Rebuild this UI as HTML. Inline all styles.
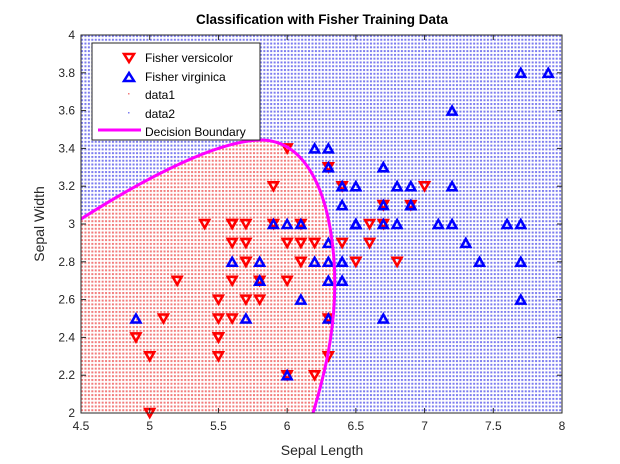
<!DOCTYPE html><html><head><style>body{margin:0;background:#fff}svg{display:block;font-family:"Liberation Sans",Arial,sans-serif}</style></head><body>
<svg id="s" width="620" height="464" xmlns="http://www.w3.org/2000/svg">
<defs>
<pattern id="pr" width="3.44" height="3.78" patternUnits="userSpaceOnUse" x="81" y="413"><rect width="3.44" height="3.78" fill="#fff"/><rect x="0" y="0" width="2" height="2" fill="#f27c7c"/></pattern>
<pattern id="pb" width="3.44" height="3.78" patternUnits="userSpaceOnUse" x="81" y="413"><rect width="3.44" height="3.78" fill="#fff"/><rect x="0" y="0" width="2" height="2" fill="#7c7cef"/></pattern>
<clipPath id="c"><rect x="81" y="35" width="481" height="378"/></clipPath>
</defs>
<rect x="81" y="35" width="481" height="378" fill="url(#pb)"/>
<path clip-path="url(#c)" d="M81,219 C150,175 220,140 262,140 C300,141 328,180 334,260 C338,320 326,370 313,413 L81,413 Z" fill="url(#pr)"/>
<g id="m"></g>
<path clip-path="url(#c)" d="M81,219 C150,175 220,140 262,140 C300,141 328,180 334,260 C338,320 326,370 313,413" fill="none" stroke="#ff00ff" stroke-width="3"/>
<rect x="81" y="35" width="481" height="378" fill="none" stroke="#262626" stroke-width="1"/>
<g id="t" font-size="12" fill="#262626"></g>
<text x="322" y="24" text-anchor="middle" font-size="13.5" font-weight="bold" fill="#000">Classification with Fisher Training Data</text>
<text x="322" y="455" text-anchor="middle" font-size="14" fill="#262626">Sepal Length</text>
<text transform="translate(44,224) rotate(-90)" text-anchor="middle" font-size="14" fill="#262626">Sepal Width</text>
<rect x="92" y="43" width="168" height="97" fill="#fff" stroke="#262626"/>
<path d="M124,54 l5,8 l5,-8 Z" fill="none" stroke="#f00" stroke-width="2.5"/>
<path d="M124,81 l5,-8 l5,8 Z" fill="none" stroke="#00f" stroke-width="2.5"/>
<rect x="128" y="93" width="1.5" height="1.5" fill="#f27c7c"/>
<rect x="128" y="112" width="1.5" height="1.5" fill="#7c7cef"/>
<line x1="98" y1="130" x2="141" y2="130" stroke="#ff00ff" stroke-width="3"/>
<g font-size="12" fill="#000"><text x="145" y="62">Fisher versicolor</text><text x="145" y="81">Fisher virginica</text><text x="145" y="99">data1</text><text x="145" y="118">data2</text><text x="145" y="136">Decision Boundary</text></g>
</svg>
<script>
var X=v=>81+(v-4.5)*137.43,Y=v=>413-(v-2)*189;
var ve=[7.0,3.2,6.4,3.2,6.9,3.1,5.5,2.3,6.5,2.8,5.7,2.8,6.3,3.3,4.9,2.4,6.6,2.9,5.2,2.7,5.0,2.0,5.9,3.0,6.0,2.2,6.1,2.9,5.6,2.9,6.7,3.1,5.6,3.0,5.8,2.7,6.2,2.2,5.6,2.5,5.9,3.2,6.1,2.8,6.3,2.5,6.1,2.8,6.4,2.9,6.6,3.0,6.8,2.8,6.7,3.0,6.0,2.9,5.7,2.6,5.5,2.4,5.5,2.4,5.8,2.7,6.0,2.7,5.4,3.0,6.0,3.4,6.7,3.1,6.3,2.3,5.6,3.0,5.5,2.5,5.5,2.6,6.1,3.0,5.8,2.6,5.0,2.3,5.6,2.7,5.7,3.0,5.7,2.9,6.2,2.9,5.1,2.5,5.7,2.8];
var vi=[6.3,3.3,5.8,2.7,7.1,3.0,6.3,2.9,6.5,3.0,7.6,3.0,4.9,2.5,7.3,2.9,6.7,2.5,7.2,3.6,6.5,3.2,6.4,2.7,6.8,3.0,5.7,2.5,5.8,2.8,6.4,3.2,6.5,3.0,7.7,3.8,7.7,2.6,6.0,2.2,6.9,3.2,5.6,2.8,7.7,2.8,6.3,2.7,6.7,3.3,7.2,3.2,6.2,2.8,6.1,3.0,6.4,2.8,7.2,3.0,7.4,2.8,7.9,3.8,6.4,2.8,6.3,2.8,6.1,2.6,7.7,3.0,6.3,3.4,6.4,3.1,6.0,3.0,6.9,3.1,6.7,3.1,6.9,3.1,5.8,2.7,6.8,3.2,6.7,3.3,6.7,3.0,6.3,2.5,6.5,3.0,6.2,3.4,5.9,3.0];
var h='';
for(var i=0;i<ve.length;i+=2){var x=X(ve[i]),y=Y(ve[i+1]);h+=`<path d="M${x-4.5},${y-4} l4.5,8 l4.5,-8 Z" fill="none" stroke="#f00" stroke-width="2.5"/>`;}
for(var i=0;i<vi.length;i+=2){var x=X(vi[i]),y=Y(vi[i+1]);h+=`<path d="M${x-4.5},${y+4} l4.5,-8 l4.5,8 Z" fill="none" stroke="#00f" stroke-width="2.5"/>`;}
document.getElementById('m').innerHTML=h;
var t='';
for(var k=0;k<=7;k++){var v=4.5+k*0.5,x=X(v);t+=`<line x1="${x}" y1="413" x2="${x}" y2="408" stroke="#262626"/><line x1="${x}" y1="35" x2="${x}" y2="40" stroke="#262626"/><text x="${x}" y="430" text-anchor="middle">${v}</text>`;}
for(var k=0;k<=10;k++){var v=2+k*0.2,y=Y(v);var s=(Math.round(v*10)/10).toString();t+=`<line x1="81" y1="${y}" x2="86" y2="${y}" stroke="#262626"/><line x1="562" y1="${y}" x2="557" y2="${y}" stroke="#262626"/><text x="75" y="${y+4}" text-anchor="end">${s}</text>`;}
document.getElementById('t').innerHTML=t;
</script>
</body></html>
